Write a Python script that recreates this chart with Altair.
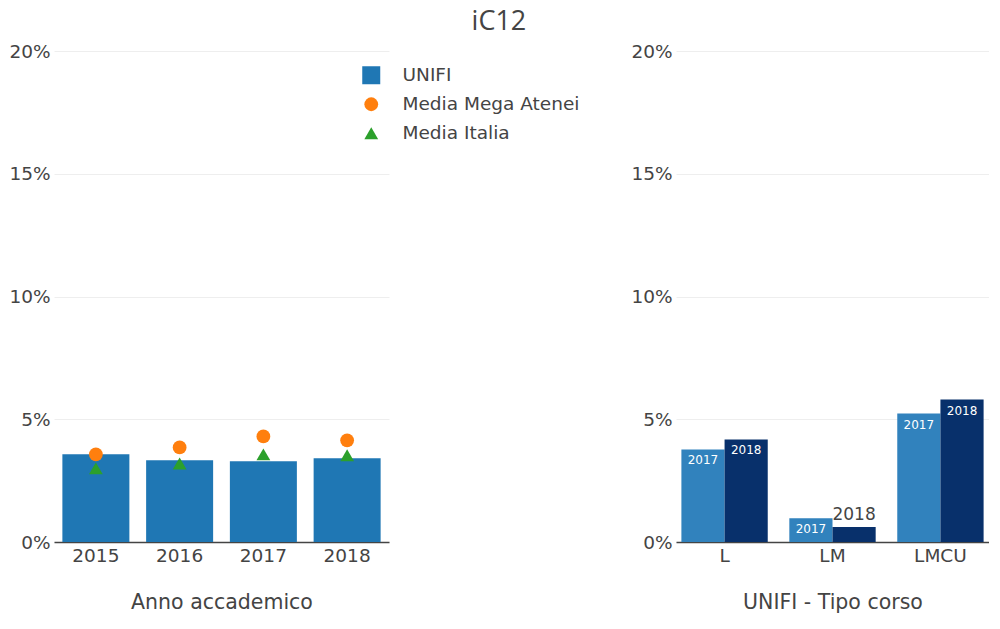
import altair as alt
import pandas as pd

# ---- data ----
anni = ["2015", "2016", "2017", "2018"]
unifi = [3.57, 3.33, 3.29, 3.41]
media_mega = [3.57, 3.85, 4.30, 4.14]
media_italia = [3.00, 3.20, 3.57, 3.53]

serie = ["UNIFI", "Media Mega Atenei", "Media Italia"]
serie_colori = ["#1f77b4", "#ff7f0e", "#2ca02c"]
serie_forme = ["square", "circle", "triangle-up"]

corsi = ["L", "LM", "LMCU"]
anni_corso = ["2017", "2018"]
val_2017 = [3.77, 0.97, 5.23]
val_2018 = [4.18, 0.61, 5.80]
colori_corso = ["#3182bd", "#08306b"]

tick_vals = [0, 5, 10, 15, 20]

FONT = "DejaVu Sans"
TXT = "#444444"

df_bar = pd.DataFrame({"anno": anni, "valore": unifi})
df_pts = pd.DataFrame({
    "anno": anni + anni,
    "valore": media_mega + media_italia,
    "serie": [serie[1]] * len(anni) + [serie[2]] * len(anni),
})
df_corsi = pd.DataFrame({
    "corso": corsi + corsi,
    "anno": [anni_corso[0]] * len(corsi) + [anni_corso[1]] * len(corsi),
    "valore": val_2017 + val_2018,
})


def y_enc():
    return alt.Y(
        "valore:Q",
        scale=alt.Scale(domain=[0, 20]),
        axis=alt.Axis(
            values=tick_vals, labelExpr="datum.value + '%'", title=None,
            domain=False, ticks=False, grid=True, gridColor="#eeeeee",
            labelPadding=4, labelFontSize=18.5, labelColor=TXT, labelFont=FONT,
        ),
    )


def x_axis(title):
    return alt.Axis(
        title=title, labelAngle=0, ticks=False, domainColor=TXT, domainWidth=1.5,
        labelFontSize=18.5, labelColor=TXT, labelFont=FONT, labelPadding=4,
        titleFontSize=20.5, titleFontWeight="normal", titleColor=TXT, titleFont=FONT,
        titlePadding=28,
    )


def leg():
    return alt.Legend(
        title=None, orient="none", legendX=308, legendY=15,
        labelFontSize=18.5, labelColor=TXT, labelFont=FONT, labelLimit=400,
        labelOffset=22, rowPadding=10, padding=0, symbolStrokeWidth=0,
    )


xsc_l = alt.Scale(paddingInner=0.2, paddingOuter=0.1)
xsc_r = alt.Scale(paddingInner=0.2, paddingOuter=0.05)

bars = alt.Chart(df_bar).mark_bar(color=serie_colori[0]).encode(
    x=alt.X("anno:N", scale=xsc_l, axis=x_axis("Anno accademico")),
    y=y_enc(),
)

pts = alt.Chart(df_pts).mark_point(filled=True, opacity=1).encode(
    x=alt.X("anno:N"),
    y=alt.Y("valore:Q"),
    color=alt.Color("serie:N", scale=alt.Scale(domain=serie, range=serie_colori), legend=leg()),
    shape=alt.Shape("serie:N", scale=alt.Scale(domain=serie, range=serie_forme), legend=leg()),
    size=alt.Size("serie:N", scale=alt.Scale(type="ordinal", domain=serie, range=[324, 190, 190]),
                  legend=leg()),
)

left = alt.layer(bars, pts).properties(width=335, height=491)

bars_r = alt.Chart(df_corsi).mark_bar().encode(
    x=alt.X("corso:N", scale=xsc_r, axis=x_axis("UNIFI - Tipo corso")),
    xOffset=alt.XOffset("anno:N", scale=alt.Scale(paddingInner=0)),
    y=y_enc(),
    color=alt.Color("anno:N", scale=alt.Scale(domain=anni_corso, range=colori_corso), legend=None),
)

txt_in = alt.Chart(df_corsi).transform_filter("datum.valore >= 0.8").mark_text(
    baseline="top", dy=6, color="white", fontSize=12, font=FONT
).encode(
    x=alt.X("corso:N"), xOffset=alt.XOffset("anno:N"), y=alt.Y("valore:Q"), text="anno:N"
)

txt_out = alt.Chart(df_corsi).transform_filter("datum.valore < 0.8").mark_text(
    baseline="bottom", dy=-3, color=TXT, fontSize=17, font=FONT
).encode(
    x=alt.X("corso:N"), xOffset=alt.XOffset("anno:N"), y=alt.Y("valore:Q"), text="anno:N"
)

right = alt.layer(bars_r, txt_in, txt_out).properties(width=313, height=491)

chart = alt.hconcat(left, right, spacing=50).resolve_scale(
    color="independent", x="independent", shape="independent", size="independent"
).resolve_legend(
    color="independent", shape="independent", size="independent"
).properties(
    title=alt.TitleParams("iC12", fontSize=27, font="Open Sans", color=TXT,
                          fontWeight="normal", anchor="middle", offset=6),
    padding=0,
).configure_view(stroke=None)

chart.save("out.html", embed_options={"renderer": "svg", "actions": False})
